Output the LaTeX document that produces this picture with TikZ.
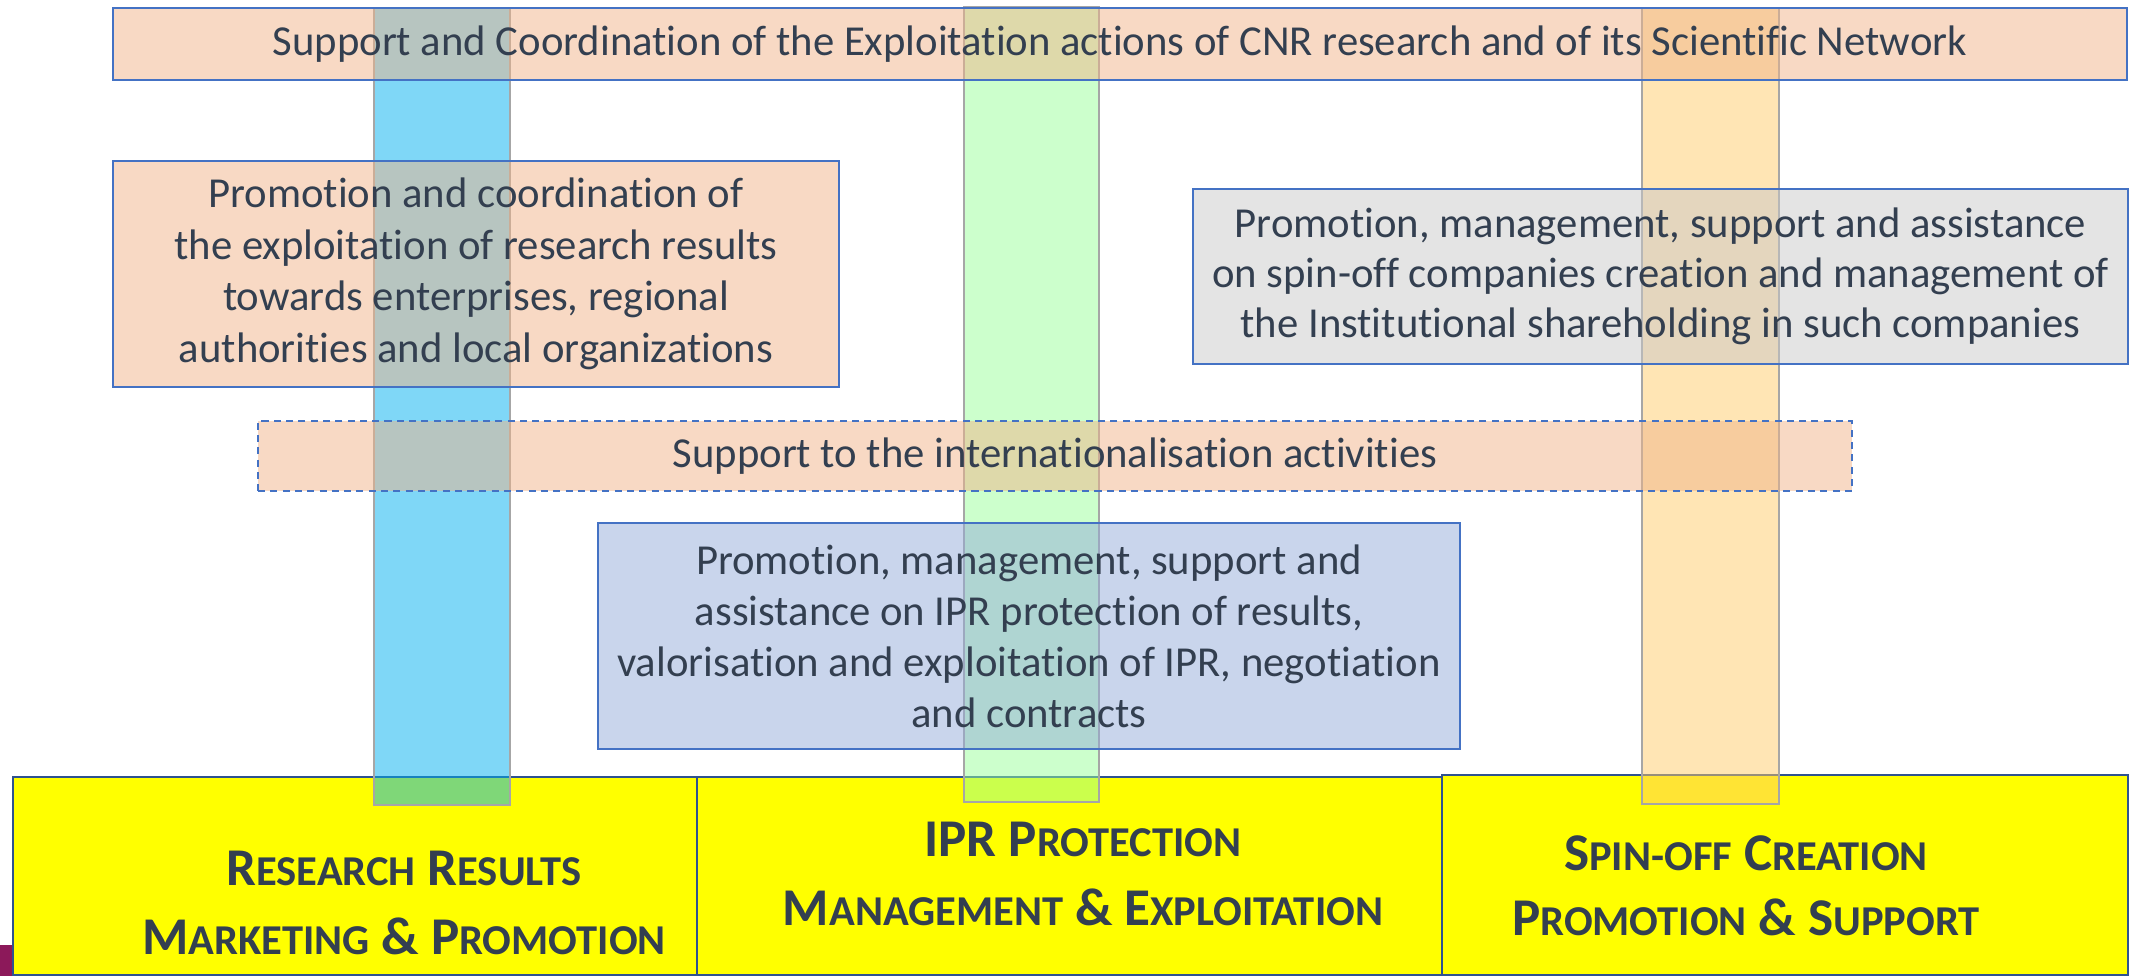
\documentclass[tikz,border=0pt]{standalone}
\usepackage{fontspec}
\setmainfont{Carlito}[Ligatures=NoCommon]
\usepackage{tikz}
\usetikzlibrary{positioning}
\definecolor{boxblue}{RGB}{68,114,196}
\definecolor{darkrim}{RGB}{47,82,143}
\definecolor{slatetext}{RGB}{51,63,80}
\definecolor{peach}{RGB}{241,180,137}
\definecolor{greybox}{RGB}{201,201,201}
\definecolor{iprblue}{RGB}{147,171,217}
\definecolor{barblue}{RGB}{0,176,240}
\definecolor{bargreen}{RGB}{153,255,153}
\definecolor{barorange}{RGB}{255,203,105}
\definecolor{bargrey}{RGB}{166,166,166}
\definecolor{maroon}{RGB}{140,25,90}
\definecolor{pureyellow}{RGB}{255,255,0}
\newcommand{\capsword}[2]{{\fontsize{15.1}{19}\selectfont #1}{\fontsize{12.1}{19}\selectfont #2}}
\tikzset{
	areabox/.style={rectangle, draw=darkrim, line width=0.7pt, fill=pureyellow, inner sep=0pt},
	columnbar/.style={rectangle, draw=bargrey, line width=0.6pt, fill opacity=0.5, inner sep=0pt},
	taskbox/.style={rectangle, draw=boxblue, line width=0.5pt, fill opacity=0.5, text opacity=1,
		text=slatetext, align=center, inner sep=0pt, font=\fontsize{12.15}{14.5}\selectfont},
	areatitle/.style={text=slatetext, align=center, font=\bfseries\fontsize{15.1}{17.6}\selectfont}
}

\begin{document}
\begin{tikzpicture}
			\useasboundingbox (0,0) rectangle (21.31,9.76);
			% corner of the logo
			\fill[maroon] (0,0) rectangle (0.13,0.31);
			
			% the three areas
			\node[areabox, minimum width=6.84cm, minimum height=1.98cm] (research) at (3.55,1.00) {};
			\node[areabox, minimum width=7.45cm, minimum height=1.98cm] (ipr) at (10.695,1.00) {};
			\node[areabox, minimum width=6.86cm, minimum height=2.00cm] (spinoff) at (17.85,1.01) {};
			\node[areatitle] (researchtitle) at (4.04,0.73) {\capsword{R}{ESEARCH} \capsword{R}{ESULTS}\\[2pt]\capsword{M}{ARKETING} \capsword{\&}{} \capsword{P}{ROMOTION}};
			\node[areatitle] (iprtitle) at (10.83,1.02) {\capsword{IPR P}{ROTECTION}\\[2pt]\capsword{M}{ANAGEMENT} \capsword{\&}{} \capsword{E}{XPLOITATION}};
			\node[areatitle] (spinofftitle) at (17.46,0.90) {\capsword{S}{PIN-OFF} \capsword{C}{REATION}\\[1pt]\capsword{P}{ROMOTION} \capsword{\&}{} \capsword{S}{UPPORT}};
			
			% the three columns
			\node[columnbar, fill=barblue, minimum width=1.36cm, minimum height=7.97cm] (researchbar) at (4.42,5.695) {};
			\node[columnbar, fill=bargreen, minimum width=1.35cm, minimum height=7.95cm] (iprbar) at (10.315,5.715) {};
			\node[columnbar, fill=barorange, minimum width=1.37cm, minimum height=7.96cm] (spinoffbar) at (17.105,5.70) {};
			
			% the activities
			\node[taskbox, fill=peach, minimum width=20.14cm, minimum height=0.72cm] (coordination) at (11.20,9.32) {Support and Coordination of the Exploitation actions of CNR research and of its Scientific Network};
			\node[taskbox, fill=peach, font=\fontsize{12.15}{14.7}\selectfont, minimum width=7.26cm, minimum height=2.26cm] (promotion) at (4.76,7.02) {Promotion and coordination of\\the exploitation of research results\\towards enterprises, regional\\authorities and local organizations};
			\node[taskbox, fill=greybox, font=\fontsize{12.15}{14.3}\selectfont, minimum width=9.35cm, minimum height=1.75cm] (spinoffsupport) at (16.605,6.995) {Promotion, management, support and assistance\\on spin-off companies creation and management of\\the Institutional shareholding in such companies};
			\node[taskbox, fill=peach, dash pattern=on 2pt off 1.5pt, minimum width=15.94cm, minimum height=0.70cm] (international) at (10.55,5.20) {Support to the internationalisation activities};
			\node[taskbox, fill=iprblue, minimum width=8.62cm, minimum height=2.26cm] (iprsupport) at (10.29,3.40) {Promotion, management, support and\\assistance on IPR protection of results,\\valorisation and exploitation of IPR, negotiation\\and contracts};
		\end{tikzpicture}
\end{document}
